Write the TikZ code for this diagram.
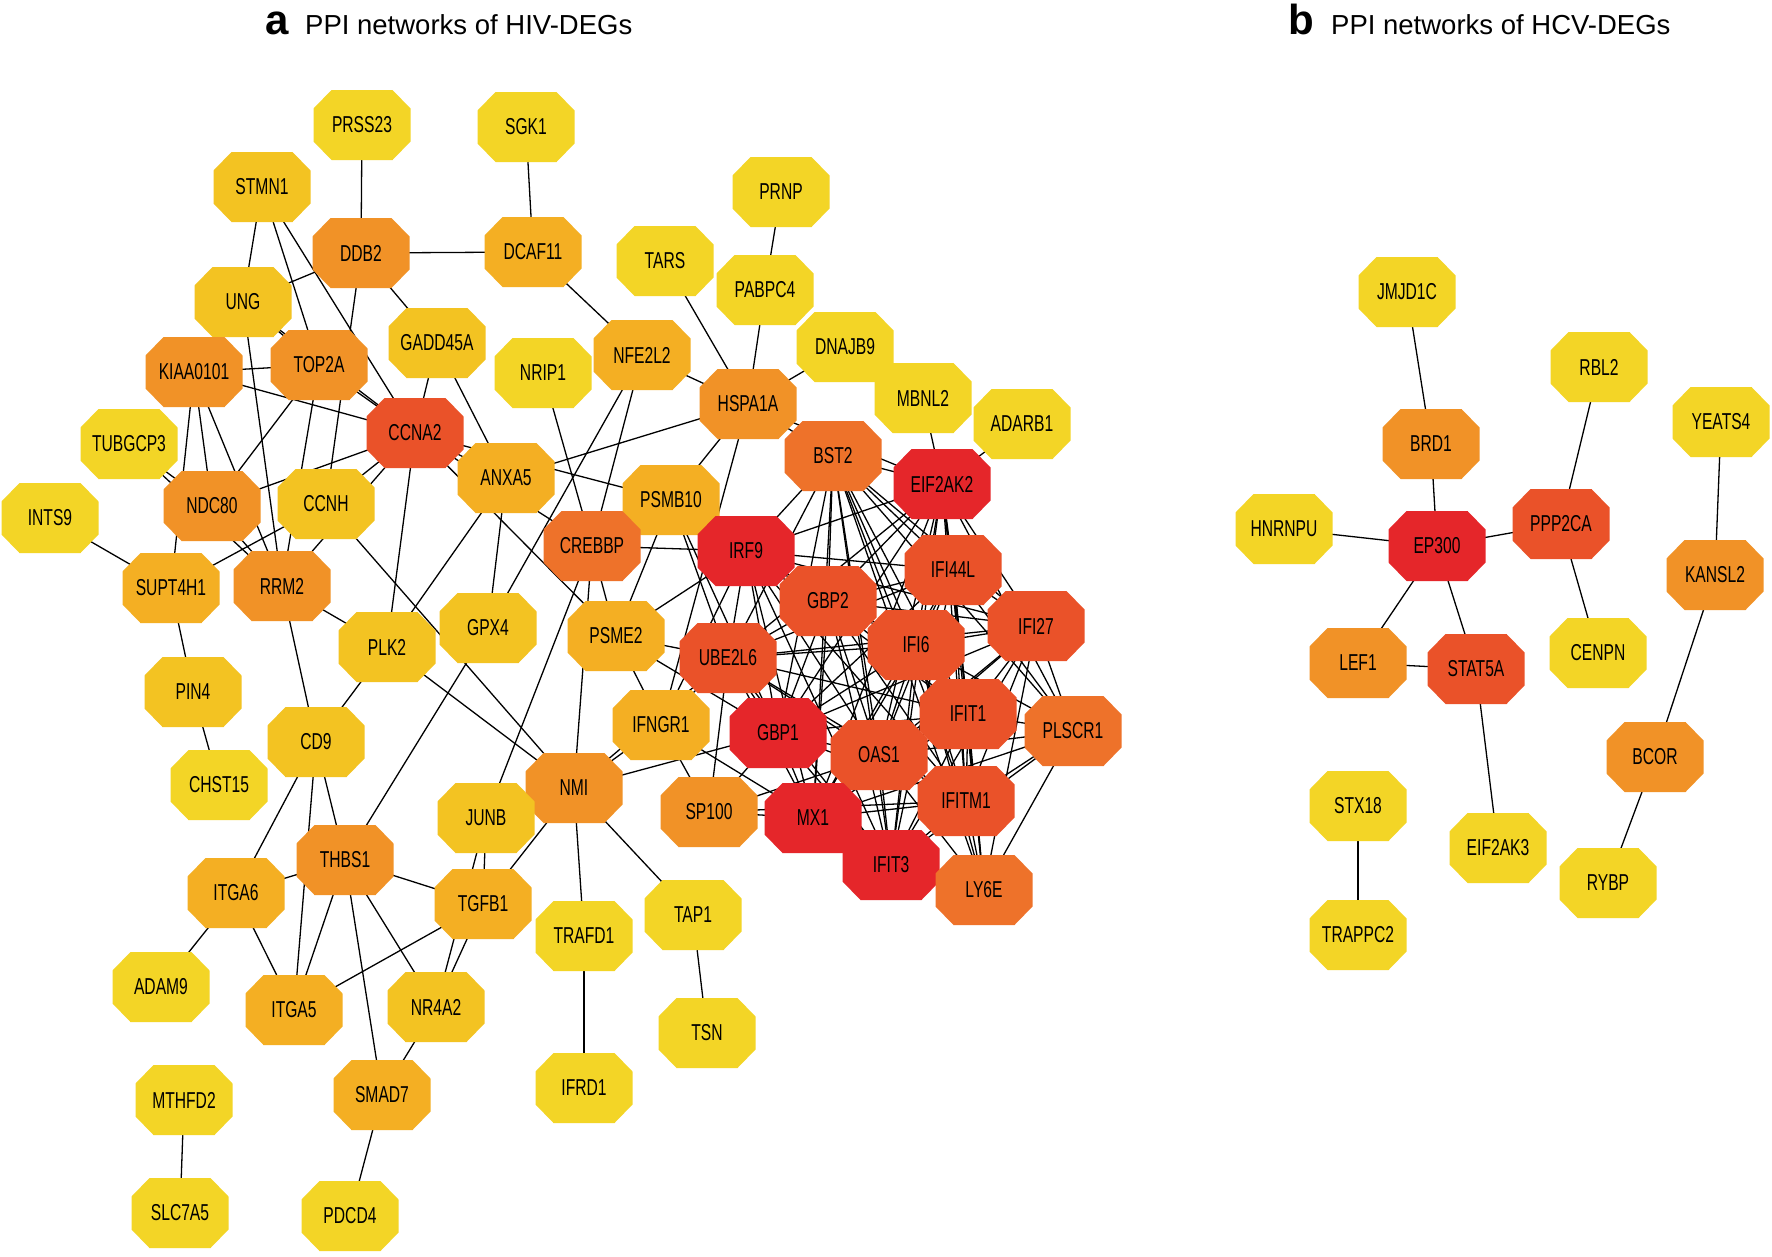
\documentclass[tikz,border=0pt]{standalone}
\usepackage{fontspec}
\setmainfont{Liberation Sans}
\newfontfamily\narrowfont{Liberation Sans}[FakeStretch=0.68]
\pgfdeclarelayer{back}
\pgfdeclarelayer{bg}
\pgfsetlayers{back,bg,main}
\definecolor{cA}{HTML}{F3D526}
\definecolor{cB}{HTML}{F3C322}
\definecolor{cC}{HTML}{F4AF23}
\definecolor{cD}{HTML}{F19227}
\definecolor{cE}{HTML}{EE722A}
\definecolor{cF}{HTML}{EA5229}
\definecolor{cG}{HTML}{E5262A}
\tikzset{
  gene/.style={rectangle, inner sep=0pt, minimum width=97pt, minimum height=70pt,
    draw=none, fill=none, font=\narrowfont\fontsize{23pt}{23pt}\selectfont, text=black},
  g1/.style={fill=cA},
  g2/.style={fill=cB},
  g3/.style={fill=cC},
  g4/.style={fill=cD},
  g5/.style={fill=cE},
  g6/.style={fill=cF},
  g7/.style={fill=cG},
  link/.style={line width=1.3pt, black},
  ttl/.style={anchor=base west, inner sep=0pt, font=\fontsize{27.5pt}{27.5pt}\selectfont},
  lett/.style={anchor=base west, inner sep=0pt, font=\fontsize{42pt}{42pt}\selectfont\bfseries}
}
% octagon gene node: colour style, name, x, y
\newcommand\gn[4]{%
  \fill[#1, shift={(#3,#4)}] (-48.5,-16.5) -- (-48.5,16.5) -- (-30.5,35) -- (30.5,35)
     -- (48.5,16.5) -- (48.5,-16.5) -- (30.5,-35) -- (-30.5,-35) -- cycle;
  \node[gene] (#2) at (#3,#4) {#2};}
\begin{document}
\begin{tikzpicture}[x=1pt,y=-1pt]
\begin{pgfonlayer}{back}
\fill[white] (0,0) rectangle (1772,1256);
\end{pgfonlayer}
\useasboundingbox (0,0) rectangle (1772,1256);
% titles
\node[lett] (la) at (265,34) {a};
\node[ttl] (ta) at (305,34) {PPI networks of HIV-DEGs};
\node[lett] (lb) at (1288,34) {b};
\node[ttl] (tb) at (1331,34) {PPI networks of HCV-DEGs};
% panel a nodes
\gn{g1}{PRSS23}{362}{125}
\gn{g1}{SGK1}{526}{127}
\gn{g2}{STMN1}{262}{187}
\gn{g1}{PRNP}{781}{192}
\gn{g4}{DDB2}{361}{253}
\gn{g3}{DCAF11}{533}{252}
\gn{g1}{TARS}{665}{261}
\gn{g2}{UNG}{243}{302}
\gn{g1}{PABPC4}{765}{290}
\gn{g2}{GADD45A}{437}{343}
\gn{g4}{TOP2A}{319}{365}
\gn{g4}{KIAA0101}{194}{372}
\gn{g3}{NFE2L2}{642}{355}
\gn{g1}{DNAJB9}{845}{347}
\gn{g1}{NRIP1}{543}{373}
\gn{g4}{HSPA1A}{748}{404}
\gn{g1}{MBNL2}{923}{398}
\gn{g1}{ADARB1}{1022}{424}
\gn{g6}{CCNA2}{415}{433}
\gn{g1}{TUBGCP3}{129}{444}
\gn{g5}{BST2}{833}{456}
\gn{g7}{EIF2AK2}{942}{484}
\gn{g3}{ANXA5}{506}{478}
\gn{g3}{PSMB10}{671}{500}
\gn{g4}{NDC80}{212}{506}
\gn{g2}{CCNH}{326}{504}
\gn{g1}{INTS9}{50}{518}
\gn{g5}{CREBBP}{592}{546}
\gn{g7}{IRF9}{746}{551}
\gn{g6}{IFI44L}{953}{570}
\gn{g3}{SUPT4H1}{171}{588}
\gn{g4}{RRM2}{282}{586}
\gn{g6}{GBP2}{828}{601}
\gn{g6}{IFI27}{1036}{626}
\gn{g2}{GPX4}{488}{628}
\gn{g2}{PLK2}{387}{647}
\gn{g3}{PSME2}{616}{636}
\gn{g6}{UBE2L6}{728}{658}
\gn{g6}{IFI6}{916}{645}
\gn{g2}{PIN4}{193}{692}
\gn{g6}{IFIT1}{968}{714}
\gn{g3}{IFNGR1}{661}{725}
\gn{g7}{GBP1}{778}{733}
\gn{g5}{PLSCR1}{1073}{731}
\gn{g2}{CD9}{316}{742}
\gn{g6}{OAS1}{879}{755}
\gn{g1}{CHST15}{219}{785}
\gn{g4}{NMI}{574}{788}
\gn{g4}{SP100}{709}{812}
\gn{g7}{MX1}{813}{818}
\gn{g6}{IFITM1}{966}{801}
\gn{g2}{JUNB}{486}{818}
\gn{g4}{THBS1}{345}{860}
\gn{g7}{IFIT3}{891}{865}
\gn{g5}{LY6E}{984}{890}
\gn{g3}{ITGA6}{236}{893}
\gn{g3}{TGFB1}{483}{904}
\gn{g1}{TAP1}{693}{915}
\gn{g1}{TRAFD1}{584}{936}
\gn{g1}{ADAM9}{161}{987}
\gn{g3}{ITGA5}{294}{1010}
\gn{g2}{NR4A2}{436}{1007}
\gn{g1}{TSN}{707}{1033}
\gn{g3}{SMAD7}{382}{1095}
\gn{g1}{IFRD1}{584}{1088}
\gn{g1}{MTHFD2}{184}{1100}
\gn{g1}{SLC7A5}{180}{1213}
\gn{g1}{PDCD4}{350}{1216}
% panel b nodes
\gn{g1}{JMJD1C}{1407}{292}
\gn{g1}{RBL2}{1599}{367}
\gn{g1}{YEATS4}{1721}{422}
\gn{g4}{BRD1}{1431}{444}
\gn{g1}{HNRNPU}{1284}{529}
\gn{g7}{EP300}{1437}{546}
\gn{g6}{PPP2CA}{1561}{524}
\gn{g4}{KANSL2}{1715}{575}
\gn{g4}{LEF1}{1358}{663}
\gn{g6}{STAT5A}{1476}{669}
\gn{g1}{CENPN}{1598}{653}
\gn{g4}{BCOR}{1655}{757}
\gn{g1}{STX18}{1358}{806}
\gn{g1}{EIF2AK3}{1498}{848}
\gn{g1}{RYBP}{1608}{883}
\gn{g1}{TRAPPC2}{1358}{935}
% connectors
\begin{pgfonlayer}{bg}
\foreach \a [count=\i] in {IRF9,BST2,EIF2AK2,IFI44L,GBP2,IFI27,IFI6,UBE2L6,IFIT1,GBP1,OAS1,MX1,IFITM1,IFIT3}{
  \foreach \b [count=\j] in {IRF9,BST2,EIF2AK2,IFI44L,GBP2,IFI27,IFI6,UBE2L6,IFIT1,GBP1,OAS1,MX1,IFITM1,IFIT3}{
    \ifnum\j>\i \draw[link] (\a.center) -- (\b.center); \fi
  }
}
\foreach \b in {IFI27,IFIT1,IFITM1,LY6E,OAS1,IFI6,IFI44L,EIF2AK2,BST2,MX1,IFIT3}
  \draw[link] (PLSCR1.center) -- (\b.center);
\foreach \b in {IFIT3,IFITM1,IFIT1,IFI27,IFI6,OAS1,IFI44L,EIF2AK2,BST2,MX1}
  \draw[link] (LY6E.center) -- (\b.center);
\foreach \a/\b in {MBNL2/EIF2AK2, ADARB1/EIF2AK2, HSPA1A/BST2, HSPA1A/EIF2AK2,
  HSPA1A/PSMB10, HSPA1A/IFNGR1, HSPA1A/ANXA5, HSPA1A/NFE2L2, TARS/HSPA1A,
  PABPC4/HSPA1A, DNAJB9/HSPA1A, PRNP/PABPC4,
  PSMB10/IRF9, PSMB10/UBE2L6, PSMB10/GBP1, PSMB10/PSME2,
  PSME2/IRF9, PSME2/UBE2L6, PSME2/GBP1, PSME2/IFNGR1, CREBBP/PSME2, CREBBP/IRF9,
  IFNGR1/IRF9, IFNGR1/UBE2L6, IFNGR1/MX1, IFNGR1/SP100, IFNGR1/NMI,
  SP100/UBE2L6, SP100/GBP1, SP100/MX1, SP100/IFITM1, SP100/OAS1,
  NMI/UBE2L6, NMI/GBP1, NMI/TGFB1, NMI/TRAFD1, NMI/TAP1, CREBBP/NMI, CCNH/NMI, PLK2/NMI,
  PRSS23/DDB2, SGK1/DCAF11, DDB2/DCAF11, DCAF11/NFE2L2, STMN1/UNG, STMN1/TOP2A,
  STMN1/CCNA2, DDB2/UNG, DDB2/GADD45A, DDB2/CCNH, UNG/KIAA0101, UNG/TOP2A,
  UNG/CCNA2, UNG/RRM2, KIAA0101/TOP2A, KIAA0101/CCNA2, KIAA0101/SUPT4H1,
  KIAA0101/NDC80, KIAA0101/RRM2, TOP2A/CCNA2, TOP2A/NDC80, TOP2A/RRM2,
  GADD45A/CCNA2, GADD45A/ANXA5, TUBGCP3/NDC80, TUBGCP3/RRM2, INTS9/SUPT4H1,
  CCNA2/NDC80, CCNA2/CCNH, CCNA2/RRM2, CCNA2/PLK2, CCNA2/ANXA5, CCNA2/PSMB10,
  CCNA2/CREBBP, CCNA2/PSME2, SUPT4H1/CCNH, NDC80/RRM2, RRM2/PLK2, RRM2/CD9,
  PLK2/CD9, PLK2/ANXA5, SUPT4H1/PIN4, PIN4/CHST15, NRIP1/CREBBP, NFE2L2/CREBBP,
  NFE2L2/GPX4, ANXA5/GPX4, GPX4/THBS1, JUNB/CREBBP, JUNB/TGFB1, THBS1/TGFB1,
  TGFB1/ITGA5, TGFB1/NR4A2, NR4A2/JUNB, THBS1/NR4A2, NR4A2/SMAD7, CD9/ITGA6,
  CD9/ITGA5, CD9/THBS1, ITGA6/THBS1, THBS1/ITGA5, THBS1/SMAD7, ITGA6/ADAM9,
  ITGA6/ITGA5, SMAD7/PDCD4, MTHFD2/SLC7A5, TRAFD1/IFRD1, TAP1/TSN,
  JMJD1C/BRD1, BRD1/EP300, HNRNPU/EP300, EP300/PPP2CA, EP300/LEF1, EP300/STAT5A,
  LEF1/STAT5A, STAT5A/EIF2AK3, PPP2CA/RBL2, PPP2CA/CENPN, YEATS4/KANSL2,
  KANSL2/BCOR, BCOR/RYBP, STX18/TRAPPC2}
  \draw[link] (\a.center) -- (\b.center);
\end{pgfonlayer}
\end{tikzpicture}
\end{document}
